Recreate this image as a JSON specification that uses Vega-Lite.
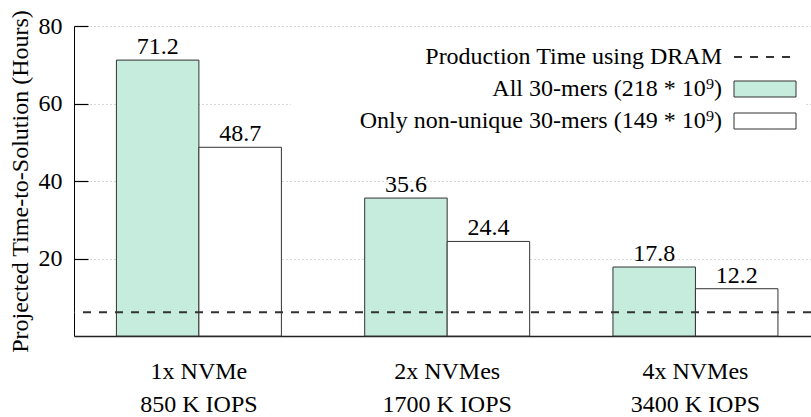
{
  "$schema": "https://vega.github.io/schema/vega-lite/v6.json",
  "width": 737,
  "height": 310,
  "autosize": {"type": "none"},
  "padding": {"left": 74, "top": 26, "right": 0, "bottom": 81},
  "background": "white",
  "config": {
    "font": "Liberation Serif",
    "view": {"stroke": null},
    "axis": {"labelFont": "Liberation Serif", "titleFont": "Liberation Serif", "labelColor": "black", "titleColor": "black", "labelFontSize": 24, "titleFontSize": 24, "titleFontWeight": "normal"}
  },
  "datasets": {
    "bars": [
      {"group": "1x NVMe|850 K IOPS", "series": "All 30-mers (218 * 10⁹)", "value": 71.2},
      {"group": "1x NVMe|850 K IOPS", "series": "Only non-unique 30-mers (149 * 10⁹)", "value": 48.7},
      {"group": "2x NVMes|1700 K IOPS", "series": "All 30-mers (218 * 10⁹)", "value": 35.6},
      {"group": "2x NVMes|1700 K IOPS", "series": "Only non-unique 30-mers (149 * 10⁹)", "value": 24.4},
      {"group": "4x NVMes|3400 K IOPS", "series": "All 30-mers (218 * 10⁹)", "value": 17.8},
      {"group": "4x NVMes|3400 K IOPS", "series": "Only non-unique 30-mers (149 * 10⁹)", "value": 12.2}
    ],
    "dram": [{"series": "Production Time using DRAM", "value": 6.1}]
  },
  "layer": [
    {
      "data": {"name": "bars"},
      "mark": {"type": "bar", "stroke": "#333", "strokeWidth": 1},
      "encoding": {
        "x": {
          "field": "group", "type": "nominal", "sort": null, "title": null,
          "scale": {"paddingInner": 0.3355, "paddingOuter": 0.152, "align": 0.562},
          "axis": {"labelExpr": "split(datum.label, '|')", "labelAngle": 0, "ticks": false, "tickSize": 0, "labelPadding": 23, "labelBaseline": "top", "labelLineHeight": 33, "domainColor": "#222", "domainWidth": 1.5, "grid": false}
        },
        "xOffset": {
          "field": "series", "type": "nominal", "sort": null,
          "scale": {"domain": ["All 30-mers (218 * 10⁹)", "Only non-unique 30-mers (149 * 10⁹)"], "paddingInner": 0, "paddingOuter": 0}
        },
        "y": {
          "field": "value", "type": "quantitative",
          "title": "Projected Time-to-Solution (Hours)",
          "scale": {"domain": [0, 80], "nice": false},
          "axis": {"values": [20, 40, 60, 80], "tickSize": -14, "tickColor": "black", "tickWidth": 1.2, "labelPadding": 26, "domainColor": "black", "domainWidth": 1, "grid": true, "gridColor": "#b0b0b0", "gridDash": [1, 3], "gridWidth": 1, "titlePadding": 6}
        },
        "fill": {
          "field": "series", "type": "nominal",
          "scale": {
            "domain": ["Production Time using DRAM", "All 30-mers (218 * 10⁹)", "Only non-unique 30-mers (149 * 10⁹)"],
            "range": ["#ffffff", "#c6ecde", "#ffffff"]
          },
          "legend": {
            "orient": "none", "legendX": 217, "legendY": 13, "title": null,
            "labelFontSize": 24, "labelFont": "Liberation Serif", "labelColor": "black", "labelLimit": 0,
            "labelAlign": "right", "labelOffset": -55, "symbolOffset": 456, "symbolSize": 256,
            "symbolType": "M-3.875,-1H3.875V1H-3.875Z",
            "rowPadding": 8, "padding": 6, "fillColor": "white", "symbolStrokeWidth": 1,
            "encoding": {
              "symbols": {
                "shape": {"value": {"expr": "datum.value === 'Production Time using DRAM' ? 'M-3.875,0H3.875' : 'M-3.875,-1H3.875V1H-3.875Z'"}},
                "strokeDash": {"value": {"expr": "datum.value === 'Production Time using DRAM' ? [8,8] : [1,0]"}},
                "strokeWidth": {"value": {"expr": "datum.value === 'Production Time using DRAM' ? 2 : 1"}},
                "stroke": {"value": "#333"}
              }
            }
          }
        }
      }
    },
    {
      "data": {"name": "dram"},
      "mark": {"type": "rule", "strokeDash": [8, 8], "strokeWidth": 2, "color": "#333"},
      "encoding": {"y": {"field": "value", "type": "quantitative"}}
    },
    {
      "data": {"name": "bars"},
      "mark": {"type": "text", "baseline": "alphabetic", "dy": -6, "fontSize": 24, "font": "Liberation Serif", "color": "black"},
      "encoding": {
        "x": {"field": "group", "type": "nominal", "sort": null},
        "xOffset": {"field": "series", "type": "nominal", "sort": null},
        "y": {"field": "value", "type": "quantitative"},
        "text": {"field": "value", "type": "quantitative", "format": ".1f"}
      }
    },
    {
      "mark": {"type": "rule", "color": "black", "strokeWidth": 1},
      "encoding": {"y": {"datum": 80}}
    }
  ]
}
